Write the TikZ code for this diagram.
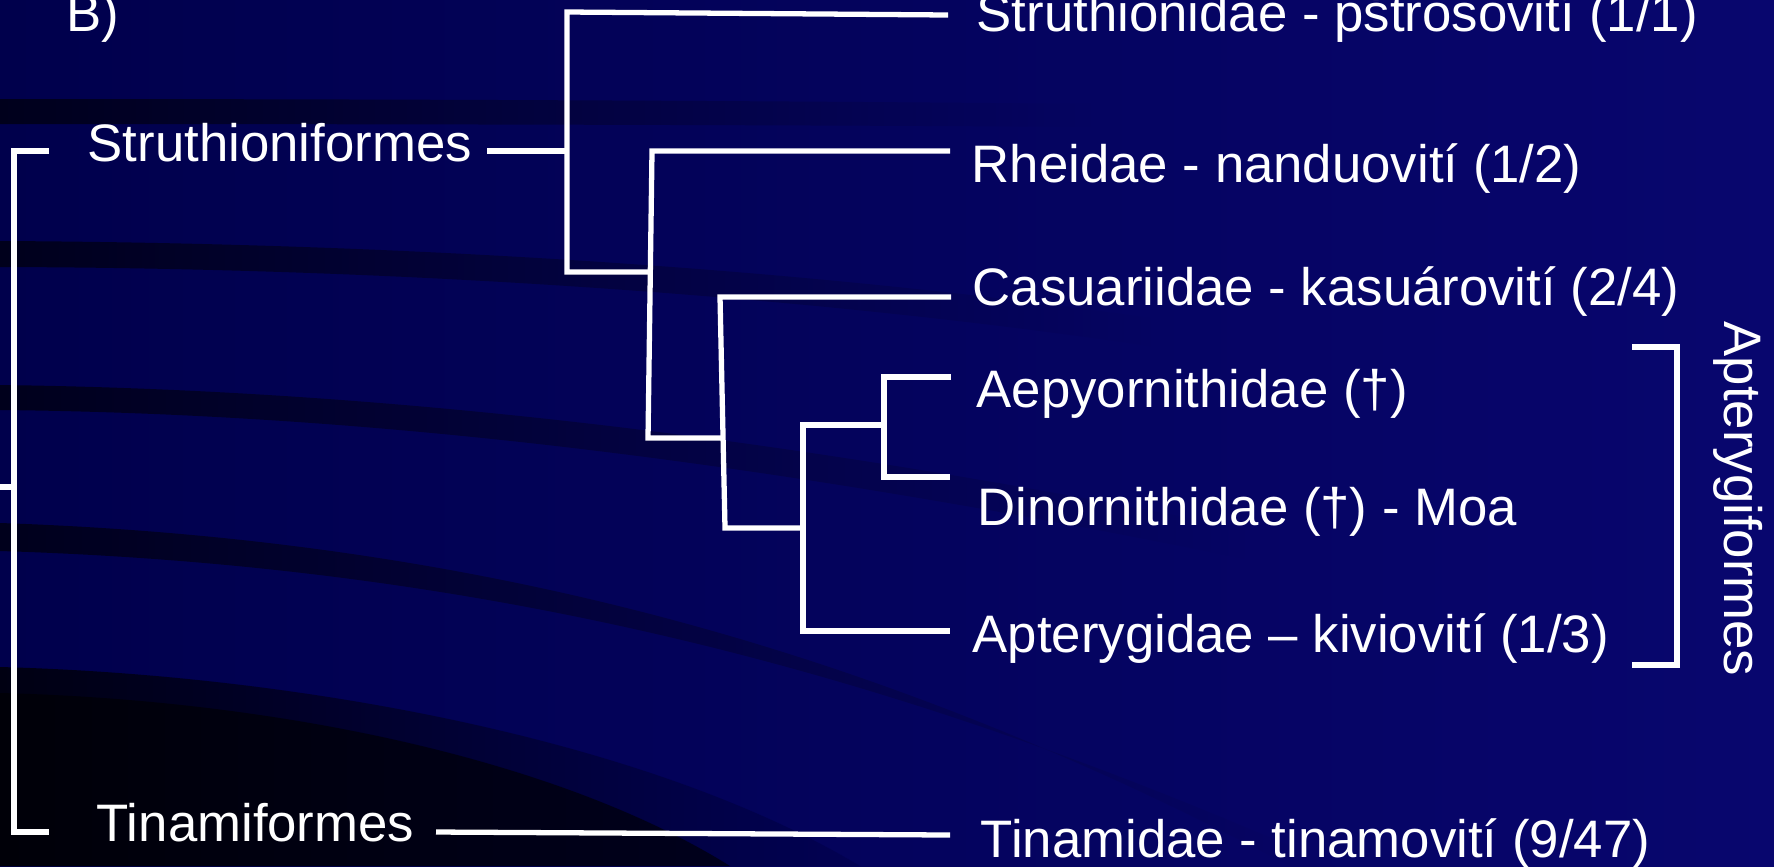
\documentclass[tikz,border=0pt]{standalone}
\usepackage{fontspec}
\setmainfont{Liberation Sans}
\usetikzlibrary{positioning}
\definecolor{bgLeft}{RGB}{0,0,76}
\definecolor{bgRight}{RGB}{8,6,110}
\definecolor{bandDark}{RGB}{0,0,28}
\definecolor{deepDark}{RGB}{0,0,8}
\definecolor{outerDark}{RGB}{0,0,18}
\colorlet{bgAtA}{bgRight!62!bgLeft}
\colorlet{bgAtB}{bgRight!70!bgLeft}
\colorlet{bgAtC}{bgRight!75!bgLeft}
\tikzset{
  branch/.style={draw=white, line width=1.5pt},
  taxon/.style={text=white, font=\fontsize{15pt}{18pt}\selectfont, anchor=base west, inner sep=0pt},
  band/.style={draw=none, left color=bandDark, middle color=bandDark!75!#1, right color=#1}
}

\begin{document}
\begin{tikzpicture}[x=0.01cm, y=-0.01cm]
\useasboundingbox (0,0) rectangle (1774,866);
% slide background
\shade[left color=bgLeft, right color=bgRight] (0,0) rectangle (1774,866);
\shade[band=bgAtA] (0,99) .. controls (400,99) and (800,101) .. (1100,104)
  -- (1100,127) .. controls (800,125) and (400,124) .. (0,124) -- cycle;
\shade[band=bgAtA] (0,241) .. controls (400,243) and (800,268) .. (1150,318)
  -- (1150,346) .. controls (800,295) and (400,268) .. (0,267) -- cycle;
\shade[band=bgAtB] (0,385) .. controls (400,390) and (800,440) .. (1250,530)
  -- (1250,560) .. controls (800,468) and (400,414) .. (0,410) -- cycle;
\shade[band=bgAtC] (0,523) .. controls (500,540) and (900,660) .. (1290,866)
  -- (1335,866) .. controls (930,686) and (520,567) .. (0,551) -- cycle;
\shade[left color=outerDark, middle color=outerDark!70!bgLeft, right color=bgLeft!80!bgRight]
  (0,667) .. controls (300,675) and (650,740) .. (860,866) -- (0,866) -- cycle;
\shade[left color=deepDark, right color=bandDark] (0,693) .. controls (280,700) and (560,760) .. (730,866)
  -- (0,866) -- cycle;

% labels
\node[taxon] (bLbl) at (66,31) {B)};
\node[taxon] (strf) at (87,161) {Struthioniformes};
\node[taxon] (tinf) at (96,841) {Tinamiformes};
\node[taxon] (stru) at (976,31) {Struthionidae - pštrosovití (1/1)};
\node[taxon] (rhei) at (971,182) {Rheidae - nanduovití (1/2)};
\node[taxon] (casu) at (972,305) {Casuariidae - kasuárovití (2/4)};
\node[taxon] (aepy) at (976,407) {Aepyornithidae (†)};
\node[taxon] (dino) at (977,525) {Dinornithidae (†) - Moa};
\node[taxon] (apte) at (972,652) {Apterygidae – kiviovití (1/3)};
\node[taxon] (tina) at (980,857) {Tinamidae - tinamovití (9/47)};
\node[taxon, rotate=-90, anchor=base] (aptf) at (1724,499) {Apterygiformes};

% tree points
\coordinate (rootL) at (0,487);
\coordinate (root) at (14,487);
\coordinate (stTop) at (14,151);
\coordinate (stTip) at (49,151);
\coordinate (tiBot) at (14,832);
\coordinate (tiTip) at (49,832);
\coordinate (ord1R) at (487,151);
\coordinate (ord2R) at (436,832);
\coordinate (n1) at (567,151);
\coordinate (n1t) at (567,12);
\coordinate (n1b) at (567,272);
\coordinate (n2t) at (652,151);
\coordinate (n2m) at (651,272);
\coordinate (n2b) at (648,438);
\coordinate (n3t) at (720,297);
\coordinate (n3m) at (723,438);
\coordinate (n3b) at (725,528);
\coordinate (n4t) at (803,425);
\coordinate (n4m) at (803,528);
\coordinate (n4b) at (803,631);
\coordinate (n5t) at (884,377);
\coordinate (n5m) at (884,425);
\coordinate (n5b) at (884,477);
\coordinate (eStru) at (948,15);
\coordinate (eRhei) at (950,151);
\coordinate (eCasu) at (951,297);
\coordinate (eAepy) at (951,377);
\coordinate (eDino) at (950,477);
\coordinate (eApte) at (950,631);
\coordinate (eTina) at (950,835);
\coordinate (brT) at (1632,347);
\coordinate (brTR) at (1677,347);
\coordinate (brBR) at (1677,665);
\coordinate (brB) at (1632,665);

% branches
\draw[branch] (rootL) -- (root);
\draw[branch] (stTip) -- (stTop) -- (tiBot) -- (tiTip);
\draw[branch] (ord1R) -- (n1);
\draw[branch] (eStru) -- (n1t) -- (n1b) -- (n2m);
\draw[branch] (eRhei) -- (n2t) -- (n2b) -- (n3m);
\draw[branch] (eCasu) -- (n3t) -- (n3b) -- (n4m);
\draw[branch] (n5m) -- (n4t) -- (n4b) -- (eApte);
\draw[branch] (eAepy) -- (n5t) -- (n5b) -- (eDino);
\draw[branch] (ord2R) -- (eTina);
\draw[branch] (brT) -- (brTR) -- (brBR) -- (brB);
\end{tikzpicture}
\end{document}
